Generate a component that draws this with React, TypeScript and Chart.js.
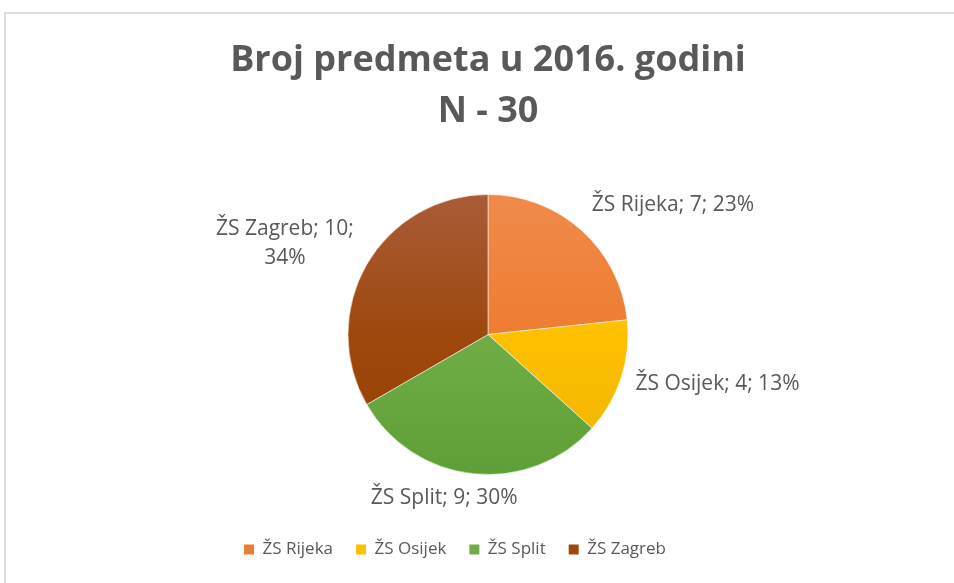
import React, { useEffect, useRef } from "react";
import { Chart, registerables } from "chart.js";

Chart.register(...registerables);

// ---- data ----
const categories = ["ŽS Rijeka", "ŽS Osijek", "ŽS Split", "ŽS Zagreb"];
const values = [7, 4, 9, 10];
const percentLabels = [23, 13, 30, 34];
const titleLines = ["Broj predmeta u 2016. godini", "N - 30"];

// ---- styles ----
const baseColors = ["#ED7D31", "#FFC000", "#70AD47", "#9E480E"];
const topColors = ["#F08A4B", "#FFCB35", "#80BA5C", "#A95C38"];
const bottomColors = ["#E26A1A", "#EFB400", "#5F9F37", "#973F00"];
const TEXT_COLOR = "#595959";
const FONT = "'Open Sans'";
const PIE_RADIUS = 140;
const LABEL_SIZE = 21;
const LABEL_LH = 29;
const LABEL_GAP = 15;
const LABEL_MAX_W = 175;
const LEGEND_SHIFT = -33;

const clamp01 = (v: number) => Math.max(0, Math.min(1, v));

const sliceLabelPlugin = {
  id: "sliceLabels",
  afterDatasetsDraw(chart: any) {
    const ctx = chart.ctx as CanvasRenderingContext2D;
    const meta = chart.getDatasetMeta(0);
    ctx.save();
    ctx.font = `${LABEL_SIZE}px ${FONT}`;
    ctx.fillStyle = TEXT_COLOR;
    ctx.textAlign = "center";
    ctx.textBaseline = "middle";
    meta.data.forEach((arc: any, i: number) => {
      const { x, y, startAngle, endAngle, outerRadius } = arc.getProps(
        ["x", "y", "startAngle", "endAngle", "outerRadius"],
        true
      );
      const mid = (startAngle + endAngle) / 2;
      const dx = Math.cos(mid);
      const dy = Math.sin(mid);
      const ax = x + dx * (outerRadius + LABEL_GAP);
      const ay = y + dy * (outerRadius + LABEL_GAP);
      const label = chart.data.labels[i];
      const value = chart.data.datasets[0].data[i];
      const full = `${label}; ${value}; ${percentLabels[i]}%`;
      let lines = [full];
      if (ctx.measureText(full).width > LABEL_MAX_W) {
        lines = [`${label}; ${value};`, `${percentLabels[i]}%`];
      }
      const w = Math.max(...lines.map((l) => ctx.measureText(l).width));
      const h = lines.length * LABEL_LH;
      const fx = clamp01(0.5 - 1.8 * dx);
      const fy = clamp01(0.5 - 1.8 * dy * dy * dy);
      const left = ax - fx * w;
      const top = ay - fy * h - (dy > 0.9 ? 5 : 0);
      lines.forEach((l, j) => {
        ctx.fillText(l, left + w / 2, top + LABEL_LH * (j + 0.5));
      });
    });
    ctx.restore();
  },
};

const legendShiftPlugin = {
  id: "legendShift",
  afterLayout(chart: any) {
    if (chart.legend) {
      chart.legend.left += LEGEND_SHIFT;
      chart.legend.right += LEGEND_SHIFT;
    }
  },
};

export default function App() {
  const canvasRef = useRef<HTMLCanvasElement | null>(null);

  useEffect(() => {
    if (!canvasRef.current) return;
    const chart = new Chart(canvasRef.current, {
      type: "pie",
      data: {
        labels: categories,
        datasets: [
          {
            data: values,
            radius: PIE_RADIUS,
            borderWidth: 1,
            borderColor: "rgba(255,255,255,0.55)",
            backgroundColor: (c: any) => {
              const i = c.dataIndex ?? 0;
              const area = c.chart.chartArea;
              if (!area) return baseColors[i];
              const cy = (area.top + area.bottom) / 2;
              const g = c.chart.ctx.createLinearGradient(0, cy - PIE_RADIUS, 0, cy + PIE_RADIUS);
              g.addColorStop(0, topColors[i]);
              g.addColorStop(0.5, baseColors[i]);
              g.addColorStop(1, bottomColors[i]);
              return g;
            },
          },
        ],
      },
      options: {
        animation: false,
        responsive: false,
        layout: { padding: { left: 22, right: 0, top: 0, bottom: 15 } },
        plugins: {
          title: {
            display: true,
            text: titleLines,
            color: TEXT_COLOR,
            font: { family: FONT, size: 36, weight: "bold", lineHeight: 51 / 36 },
            padding: { top: 35, bottom: 14 },
          },
          legend: {
            position: "bottom",
            labels: {
              boxWidth: 10,
              boxHeight: 10,
              padding: 23,
              color: TEXT_COLOR,
              font: { family: FONT, size: 17 },
              generateLabels: (chart: any) => {
                const items = Chart.overrides.pie.plugins.legend.labels.generateLabels(chart);
                return items.map((it: any, i: number) => ({
                  ...it,
                  fillStyle: baseColors[i],
                  strokeStyle: baseColors[i],
                  lineWidth: 0,
                }));
              },
            },
          },
          tooltip: { enabled: false },
        },
      },
      plugins: [sliceLabelPlugin, legendShiftPlugin],
    } as any);
    return () => chart.destroy();
  }, []);

  return (
    <div
      style={{
        position: "fixed",
        left: 0,
        top: 0,
        width: 954,
        height: 583,
        background: "#fff",
      }}
    >
      <div
        style={{
          position: "absolute",
          left: 4,
          top: 12,
          right: 0,
          bottom: 0,
          borderTop: "2px solid #dcdcdc",
          borderLeft: "2px solid #dcdcdc",
        }}
      />
      <canvas
        ref={canvasRef}
        width={954}
        height={583}
        style={{ position: "absolute", left: 0, top: 0 }}
      />
    </div>
  );
}
